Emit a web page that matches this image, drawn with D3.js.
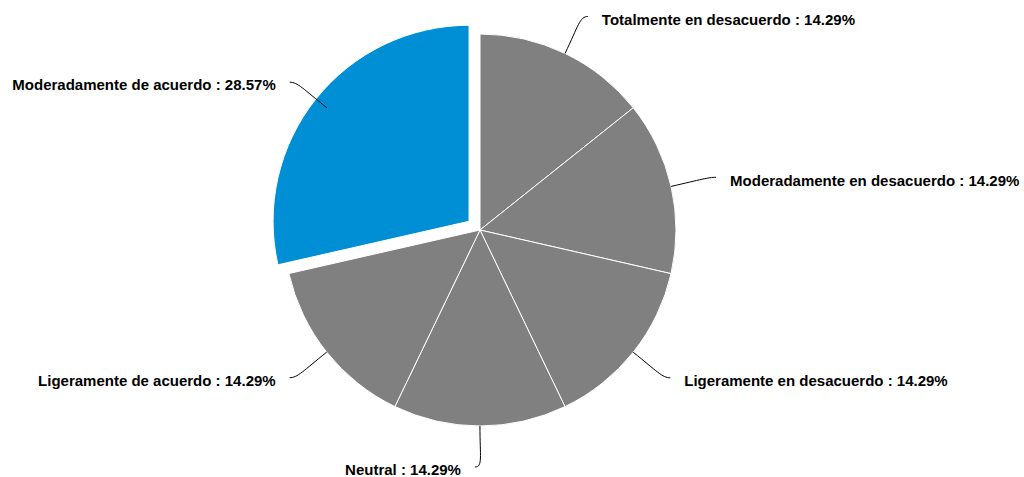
<!DOCTYPE html>
<html>
<head>
<meta charset="utf-8">
<script src="https://cdn.jsdelivr.net/npm/d3@7/dist/d3.min.js"></script>
<style>
  html, body { margin: 0; padding: 0; background: #fff; }
  svg { display: block; }
  text { font-family: "Liberation Sans", Arial, sans-serif; font-weight: bold; font-size: 15px; fill: #000; }
</style>
</head>
<body>
<svg id="chart" width="1024" height="477"></svg>
<script>
const categories = [
  "Totalmente en desacuerdo",
  "Moderadamente en desacuerdo",
  "Ligeramente en desacuerdo",
  "Neutral",
  "Ligeramente de acuerdo",
  "Moderadamente de acuerdo"
];
const values = [14.29, 14.29, 14.29, 14.29, 14.29, 28.57];
const sliced = [false, false, false, false, false, true];

const colors = { normal: "#808080", highlight: "#008fd5" };

const width = 1024, height = 477;
const cx = 480, cy = 230, r = 196;
const slicedOffset = 14;
const labelR = 237;

const svg = d3.select("#chart");
const g = svg.append("g").attr("transform", `translate(${cx},${cy})`);

const data = categories.map((c, i) => ({ name: c, value: values[i], sliced: sliced[i] }));
const pie = d3.pie().value(d => d.value).sort(null).startAngle(0).endAngle(2 * Math.PI);
const arcs = pie(data);
const arc = d3.arc().innerRadius(0).outerRadius(r);

const mid = d => (d.startAngle + d.endAngle) / 2;

g.selectAll("path.slice")
  .data(arcs)
  .join("path")
  .attr("class", "slice")
  .attr("d", arc)
  .attr("fill", d => d.data.sliced ? colors.highlight : colors.normal)
  .attr("stroke", "#fff")
  .attr("stroke-width", 1)
  .attr("stroke-linejoin", "round")
  .attr("transform", d => {
    if (!d.data.sliced) return null;
    const a = mid(d);
    return `translate(${Math.sin(a) * slicedOffset},${-Math.cos(a) * slicedOffset})`;
  });

// connectors and labels
arcs.forEach(d => {
  const a = mid(d);
  const sx = Math.sin(a), sy = -Math.cos(a);
  const side = sx > 1e-6 ? 1 : -1;
  const p0 = [sx * r, sy * r];
  const p3 = [sx * labelR + side * 5, sy * labelR];
  const k = r + (labelR - r) * 0.75;
  const p1 = [sx * k, sy * k];
  const p2 = [p3[0] - side * 8, p3[1]];
  const path = d3.path();
  path.moveTo(p0[0], p0[1]);
  path.bezierCurveTo(p1[0], p1[1], p2[0], p2[1], p3[0], p3[1]);
  g.append("path")
    .attr("d", path.toString())
    .attr("fill", "none")
    .attr("stroke", "#000")
    .attr("stroke-width", 1);
  g.append("text")
    .attr("x", p3[0] + side * 14)
    .attr("y", p3[1] + 3)
    .attr("dy", "0.35em")
    .attr("text-anchor", side > 0 ? "start" : "end")
    .text(`${d.data.name} : ${d.data.value.toFixed(2)}%`);
});
</script>
</body>
</html>
